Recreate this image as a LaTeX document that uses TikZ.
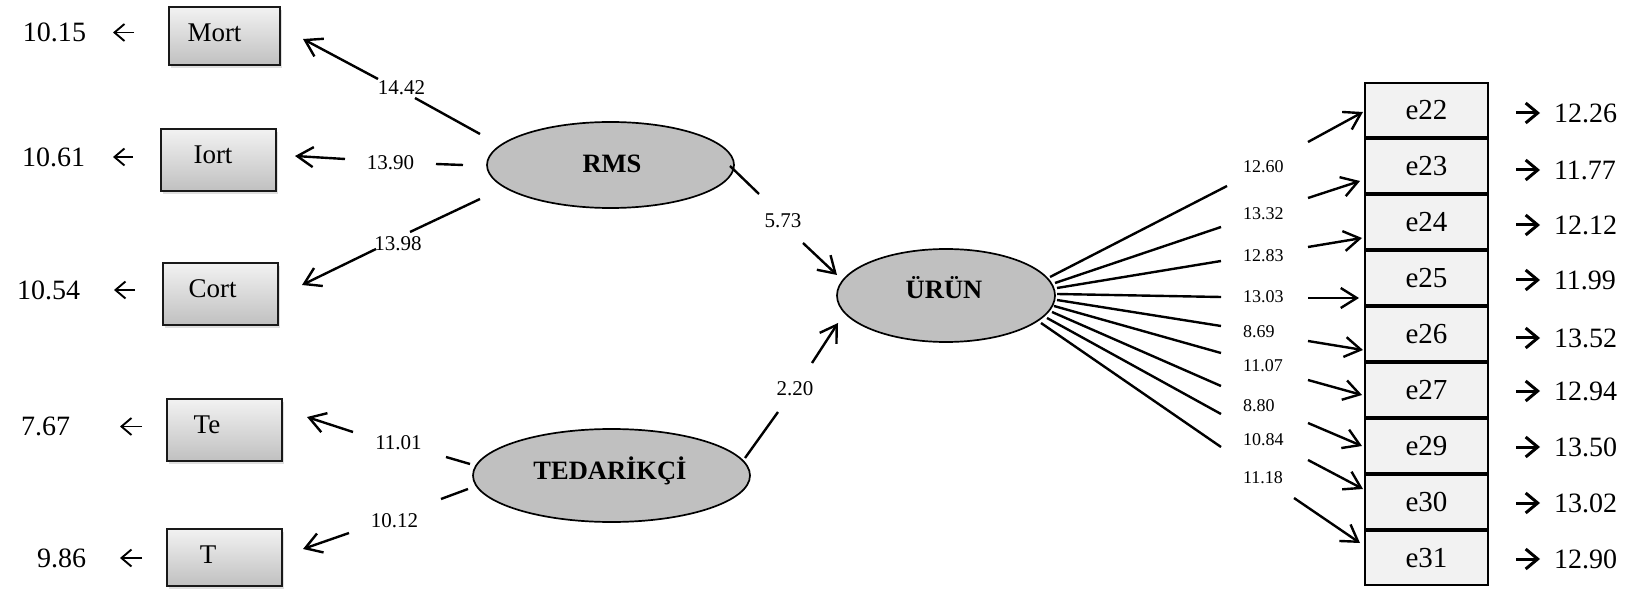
\documentclass[tikz,border=0pt]{standalone}
\usepackage{fontspec}
\setmainfont{Liberation Serif}
\usetikzlibrary{arrows.meta,shadows,shapes.geometric}
\definecolor{boxtop}{HTML}{F2F2F2}
\definecolor{boxbot}{HTML}{C0C0C0}
\definecolor{latentfill}{HTML}{C0C0C0}
\definecolor{errfill}{HTML}{F2F2F2}
\begin{document}
\begin{tikzpicture}[x=1pt,y=-1pt,
  every node/.style={inner sep=0pt,outer sep=0pt},
  obsbox/.style={draw=black!90,line width=2.2pt,top color=boxtop,bottom color=boxbot,
    drop shadow={shadow xshift=1.5pt,shadow yshift=-3pt,opacity=0.25}},
  errbox/.style={draw=black,line width=2.3pt,fill=errfill,minimum width=123pt,minimum height=54pt,
    font=\fontsize{29}{31}\selectfont},
  latent/.style={ellipse,draw=black,line width=1.7pt,fill=latentfill},
  lattext/.style={font=\bfseries\fontsize{26.5}{28}\selectfont},
  obstext/.style={font=\fontsize{27}{29}\selectfont},
  valtext/.style={anchor=west,font=\fontsize{28}{30}\selectfont},
  wlab/.style={font=\fontsize{21}{23}\selectfont},
  rlab/.style={anchor=west,font=\fontsize{18}{20}\selectfont},
  conn/.style={line width=2.4pt},
  arr/.style={line width=2.4pt,-{Straight Barb[length=16pt,width=20pt]}},
  larr/.style={line width=1.9pt,-{Straight Barb[length=10pt,width=17pt]}},
  rarr/.style={line width=3pt,-{Straight Barb[length=12pt,width=20pt]}}
]
\useasboundingbox (0,0) rectangle (1635,593);

% ---------- observed indicators (left) ----------
\node[obsbox,minimum width=111pt,minimum height=58pt] (mort) at (224.5,36) {};
\node[obsbox,minimum width=115pt,minimum height=62pt] (iort) at (218.5,160) {};
\node[obsbox,minimum width=115pt,minimum height=62pt] (cort) at (220.5,294) {};
\node[obsbox,minimum width=115pt,minimum height=62pt] (te) at (224.5,430) {};
\node[obsbox,minimum width=115pt,minimum height=57pt] (t) at (224.5,557.5) {};
\node[obstext] (mort-t) at (214.5,33) {Mort};
\node[obstext] (iort-t) at (213,155) {Iort};
\node[obstext] (cort-t) at (212.5,288.5) {Cort};
\node[obstext] (te-t) at (207,424.5) {Te};
\node[obstext] (t-t) at (208,554.5) {T};

% error values of the indicators
\node[valtext] (v-mort) at (23,32.5) {10.15};
\node[valtext] (v-iort) at (22,157) {10.61};
\node[valtext] (v-cort) at (17,290) {10.54};
\node[valtext] (v-te) at (21,426.5) {7.67};
\node[valtext] (v-t) at (37,558) {9.86};
\draw[larr] (134,32.5) -- (113,32.5);
\draw[larr] (133,157) -- (113,157);
\draw[larr] (135,290) -- (114,290);
\draw[larr] (142,426.5) -- (120,426.5);
\draw[larr] (142,558) -- (120,558);

% ---------- latent variables ----------
\node[latent,minimum width=247pt,minimum height=86pt] (rms) at (610.5,165) {};
\node[latent,minimum width=218pt,minimum height=93pt] (urun) at (946,295.5) {};
\node[latent,minimum width=277pt,minimum height=93pt] (ted) at (611.5,475.5) {};
\node[lattext] (rms-t) at (612,163.5) {RMS};
\node[lattext] (urun-t) at (944,288) {ÜRÜN};
\node[lattext] (ted-t) at (610,470.5) {TEDARİKÇİ};

% ---------- loadings of RMS and TEDARİKÇİ ----------
\coordinate (m-a) at (480,134); \coordinate (m-b) at (415,98);
\coordinate (m-c) at (378,79);  \coordinate (m-d) at (303,39);
\coordinate (i-a) at (463,165); \coordinate (i-b) at (436,164);
\coordinate (i-c) at (345,159); \coordinate (i-d) at (295,156);
\coordinate (c-a) at (480,199); \coordinate (c-b) at (410,232);
\coordinate (c-c) at (376,249); \coordinate (c-d) at (302,285);
\coordinate (te-a) at (470,464); \coordinate (te-b) at (446,457);
\coordinate (te-c) at (353,432); \coordinate (te-d) at (307,417);
\coordinate (t-a) at (468,489); \coordinate (t-b) at (441,499);
\coordinate (t-c) at (349,533); \coordinate (t-d) at (303,549);
\draw[conn] (m-a) -- (m-b);   \draw[arr] (m-c) -- (m-d);
\draw[conn] (i-a) -- (i-b);   \draw[arr] (i-c) -- (i-d);
\draw[conn] (c-a) -- (c-b);   \draw[arr] (c-c) -- (c-d);
\draw[conn] (te-a) -- (te-b); \draw[arr] (te-c) -- (te-d);
\draw[conn] (t-a) -- (t-b);   \draw[arr] (t-c) -- (t-d);
\node[wlab] (l-mort) at (401.5,88) {14.42};
\node[wlab] (l-iort) at (390.5,163) {13.90};
\node[wlab] (l-cort) at (398,244) {13.98};
\node[wlab] (l-te) at (398.5,443) {11.01};
\node[wlab] (l-t) at (394.5,521) {10.12};

% ---------- structural paths ----------
\coordinate (r-a) at (730,166); \coordinate (r-b) at (759,194);
\coordinate (r-c) at (803,243); \coordinate (r-d) at (837,275);
\coordinate (s-a) at (745,458); \coordinate (s-b) at (778,412);
\coordinate (s-c) at (812,363); \coordinate (s-d) at (838,323);
\draw[conn] (r-a) -- (r-b); \draw[arr] (r-c) -- (r-d);
\draw[conn] (s-a) -- (s-b); \draw[arr] (s-c) -- (s-d);
\node[wlab] (l-rms) at (783,221) {5.73};
\node[wlab] (l-ted) at (795,389) {2.20};

% ---------- items of ÜRÜN (right) ----------
\foreach \nm/\cy in {e22/110,e23/166,e24/222,e25/278,e26/334,e27/390,e29/446,e30/502,e31/558}
  \node[errbox] (\nm) at (1426.5,\cy) {\nm};

\foreach \i/\sx/\sy/\gx/\gy/\hx/\hy/\tx/\ty/\ly/\w in {
  1/1050/277/1227/186/1308/142/1363/112/167/12.60,
  2/1055/283/1221/227/1308/198/1360/181/214/13.32,
  3/1057/288/1221/261/1308/247/1362/238/256/12.83,
  4/1057/294/1221/297/1308/298/1359/298/297/13.03,
  5/1057/300/1221/326/1308/341/1363/350/332/8.69,
  6/1054/306/1221/353/1308/380/1362/395/366/11.07,
  7/1052/312/1221/386/1308/423/1362/446/406/8.80,
  8/1047/318/1221/414/1308/460/1363/489/440/10.84,
  9/1041/323/1221/447/1294/498/1360/543/478/11.18}{
  \coordinate (u\i-a) at (\sx,\sy);
  \coordinate (u\i-b) at (\gx,\gy);
  \coordinate (u\i-c) at (\hx,\hy);
  \coordinate (u\i-d) at (\tx,\ty);
  \draw[conn] (u\i-a) -- (u\i-b);
  \draw[arr] (u\i-c) -- (u\i-d);
  \node[rlab] (lu\i) at (1243,\ly) {\w};
}

% error values of the items
\foreach \i/\vy/\v in {22/113/12.26,23/170/11.77,24/225/12.12,25/280/11.99,26/338/13.52,
  27/391/12.94,29/447/13.50,30/503/13.02,31/559/12.90}{
  \node[valtext] (v\i) at (1554,\vy) {\v};
  \draw[rarr] ([xshift=-38pt]v\i.west) -- ([xshift=-14pt]v\i.west);
}
\end{tikzpicture}
\end{document}
